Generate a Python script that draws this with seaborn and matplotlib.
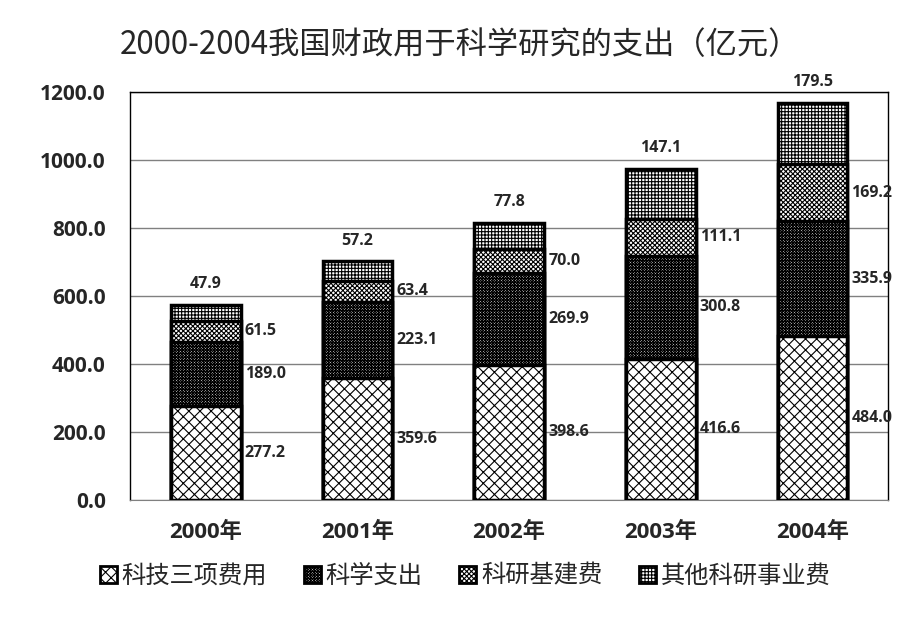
import seaborn as sns
import matplotlib.pyplot as plt
import pandas as pd
import numpy as np
from matplotlib.patches import Patch

# dados (亿元)
years = ['2000年', '2001年', '2002年', '2003年', '2004年']
series = ['科技三项费用', '科学支出', '科研基建费', '其他科研事业费']
keji_sanxiang = [277.2, 359.6, 398.6, 416.6, 484.0]
kexue_zhichu = [189.0, 223.1, 269.9, 300.8, 335.9]
keyan_jijian = [61.5, 63.4, 70.0, 111.1, 169.2]
qita = [47.9, 57.2, 77.8, 147.1, 179.5]
yticks = [0, 200, 400, 600, 800, 1000, 1200]

hatches = ['xxx', 'xxxxxxxxxxxx', 'xxxxxxx', '+++++']

sns.set_style("white")
plt.rcParams['font.family'] = ['Open Sans', 'Noto Sans CJK SC', 'DejaVu Sans']
plt.rcParams['hatch.linewidth'] = 0.8
plt.rcParams['hatch.color'] = 'black'

vals = [keji_sanxiang, kexue_zhichu, keyan_jijian, qita]
cum = np.cumsum(np.array(vals), axis=0)

fig = plt.figure(figsize=(9.19, 6.23), dpi=100)
ax = fig.add_axes([0.1415, 0.197, 0.825, 0.655])

# desenha do topo para baixo (barras acumuladas sobrepostas)
for i in range(3, -1, -1):
    df = pd.DataFrame({'ano': years, 'valor': cum[i]})
    sns.barplot(data=df, x='ano', y='valor', ax=ax, color='white',
                edgecolor='black', linewidth=2.5, width=0.46,
                hatch=hatches[i], saturation=1, zorder=3)

ax.set_ylim(0, 1200)
ax.set_yticks(yticks)
ax.set_yticklabels([f'{v:.1f}' for v in yticks], fontsize=15, fontweight='bold')
ax.tick_params(axis='x', labelsize=16, pad=12)
for t in ax.get_xticklabels():
    t.set_fontweight('bold')
ax.tick_params(axis='y', pad=14)
ax.yaxis.grid(True, color='#808080', linewidth=1, zorder=0)
ax.set_axisbelow(True)
ax.set_xlabel('')
ax.set_ylabel('')
for s in ['top', 'right', 'left']:
    ax.spines[s].set_color('black')
    ax.spines[s].set_linewidth(1)
ax.spines['bottom'].set_color('#808080')

# rótulos
for j in range(len(years)):
    for i in range(3):
        base = cum[i - 1][j] if i > 0 else 0
        ax.annotate(f'{vals[i][j]:.1f}', (j + 0.23, base + vals[i][j] / 2),
                    xytext=(3, 0), textcoords='offset points',
                    ha='left', va='center', fontsize=11.5, fontweight='bold')
    ax.annotate(f'{vals[3][j]:.1f}', (j, cum[3][j]),
                xytext=(0, 9), textcoords='offset points',
                ha='center', va='bottom', fontsize=11.5, fontweight='bold')

fig.suptitle('2000-2004我国财政用于科学研究的支出（亿元）', y=0.953,
             fontsize=22.5, family=['Noto Sans CJK SC', 'DejaVu Sans'])

handles = [Patch(facecolor='white', edgecolor='black', linewidth=2,
                 hatch=hatches[i], label=series[i]) for i in range(4)]
fig.legend(handles=handles, loc='lower center', bbox_to_anchor=(0.506, 0.02),
           ncol=4, frameon=False, handlelength=0.7, handleheight=0.7,
           handletextpad=0.2, columnspacing=1.5,
           prop={'family': ['Noto Sans CJK SC', 'DejaVu Sans'], 'size': 17.5})

fig.savefig('out.png', dpi=100)
